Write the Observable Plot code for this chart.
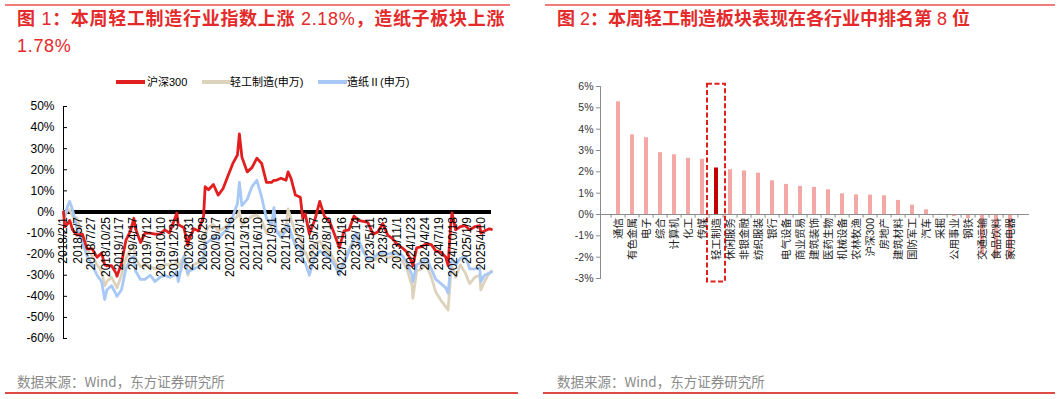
<!DOCTYPE html>
<html><head><meta charset="utf-8">
<script src="https://cdn.jsdelivr.net/npm/d3@7"></script>
<script src="https://cdn.jsdelivr.net/npm/@observablehq/plot@0.6"></script>
<style>
body{margin:0;background:#fff;}
#root{position:relative;width:1061px;height:399px;overflow:hidden;font-family:"Liberation Sans","Noto Sans CJK SC",sans-serif;}
.abs{position:absolute;}
.title{color:#E42A2A;font-weight:bold;font-size:18px;white-space:nowrap;line-height:27px;font-family:"Liberation Sans","Noto Sans CJK SC",sans-serif;}
.title .n{font-weight:normal;}
.src{color:#8a8a8a;font-size:13.5px;white-space:nowrap;line-height:18px;font-family:"Noto Sans CJK SC",sans-serif;}
.topline{height:2px;background:#F07C7C;}
.botline{height:2px;background:#E04A45;}
.leg{font-size:11px;line-height:14px;color:#000;white-space:nowrap;}
.sw{height:3.5px;width:29px;}
</style></head><body><div id="root"></div>
<script>
// ---------- Figure 1 data (cumulative change since 2018/2/1, %) ----------
const dates = ["2018-02-01","2018-02-09","2018-02-28","2018-03-12","2018-03-30","2018-04-27","2018-05-31","2018-06-29","2018-07-31","2018-08-31","2018-09-28","2018-10-18","2018-10-31","2018-11-30","2018-12-28",
"2019-01-03","2019-01-31","2019-02-28","2019-03-29","2019-04-19","2019-04-30","2019-05-31","2019-06-28","2019-07-31","2019-08-30","2019-09-30","2019-10-31","2019-11-29","2019-12-31",
"2020-01-14","2020-01-23","2020-02-28","2020-03-23","2020-03-31","2020-04-30","2020-05-29","2020-06-30","2020-07-10","2020-07-31","2020-08-31","2020-09-30","2020-10-30","2020-11-30","2020-12-31",
"2021-01-29","2021-02-10","2021-02-26","2021-03-31","2021-04-30","2021-05-31","2021-06-30","2021-07-30","2021-08-31","2021-09-15","2021-09-30","2021-10-29","2021-11-30","2021-12-13","2021-12-31",
"2022-01-28","2022-02-28","2022-03-15","2022-03-31","2022-04-26","2022-05-31","2022-06-30","2022-07-29","2022-08-31","2022-09-30","2022-10-31","2022-11-30","2022-12-30",
"2023-01-31","2023-02-15","2023-02-28","2023-03-31","2023-04-28","2023-05-31","2023-06-30","2023-07-31","2023-08-31","2023-09-28","2023-10-31","2023-11-30","2023-12-29",
"2024-01-31","2024-02-05","2024-02-29","2024-03-29","2024-04-30","2024-05-31","2024-06-28","2024-07-31","2024-08-30","2024-09-13","2024-09-30","2024-10-08","2024-10-31","2024-11-29","2024-12-31",
"2025-01-27","2025-02-28","2025-03-31","2025-04-07","2025-04-30","2025-05-30","2025-06-13"];
const hs300 = [0,-7,-5.5,-4,-8.5,-11,-10.5,-17.5,-17.5,-21.5,-19.5,-25,-25.5,-25.5,-29,
-30.5,-24.5,-13.5,-9,-3,-8,-14.5,-10,-10,-10.5,-10.5,-8.5,-10,-3.5,
-0.5,-6,-7.5,-16,-13,-8,-9,-2,12,10.5,13,8,11,17,23,
27,37,26,19,21,25.5,23,14,14,15,15,16,15,19,16,
8,7,-3,-1,-10.5,-3.5,5,-2,-4.5,-10.5,-17,-9,-8.5,
-2,-3,-4,-4.5,-5,-10.5,-9.5,-5.5,-11,-12.5,-15.5,-17,-19,
-24,-25.5,-17,-16.5,-15,-15.5,-18.5,-19,-21.5,-25.5,-6,-0.5,-8.5,-7,-6.5,
-8.5,-7,-6.5,-10,-9,-8,-8.3];
const qinggong = [0,-2,1,1,-2,-3,-12,-18,-21,-25,-28,-35,-33,-31,-35,
-36,-30,-22,-18,-17,-22,-26,-25,-26,-27,-26,-25,-25,-25,
-23,-26,-21,-30,-28,-25,-24,-22,-10,-7,-6,-9,-8,-6,-4,
-2,0.5,-6,-4,-2,-1.5,-4,-10,-6,-5,-9,-10,-7,1.5,-3,
-10,-12,-18,-19,-24,-15,-14,-17,-19,-23,-28,-23,-18,
-13,-12,-14,-18,-22,-23,-22,-20,-22,-21,-22,-23,-27,
-35,-41,-28,-27,-25,-31,-38,-42,-45,-46.5,-30,-26,-31,-25,-29,
-34,-31,-30,-37,-33,-29,-28];
const zaozhi = [0,-2,3,5,1,-8,-14,-21,-25,-30,-33,-41.5,-37,-35,-39,
-40,-37,-27,-22,-21,-28,-32,-32,-30,-33,-31,-30,-31,-30,
-28,-33,-21,-29,-28,-27,-26,-24,-15,-14,-12,-13,-10,-8,-2,
4,14,3,6,12,15,7,-3,-6,2,-9,-12,-9,-6,-10,
-16,-17,-23,-24,-30,-21,-18.5,-20,-22,-25,-30,-24,-19,
-13,-10,-13,-19,-22,-22,-20,-19,-20,-19.5,-20,-20.5,-24,
-30,-33,-25,-24,-22,-27,-32,-34,-36,-38.5,-26,-22,-25,-22,-21,
-27,-27,-26.5,-33,-30,-29,-28.5];
const xTickLabels = ["2018/2/1","2018/5/7","2018/7/27","2018/10/25","2019/1/17","2019/4/17","2019/7/12","2019/10/10","2019/12/31","2020/3/31","2020/6/29","2020/9/17","2020/12/16","2021/3/16","2021/6/10","2021/9/1","2021/12/1","2022/3/1","2022/5/27","2022/8/18","2022/11/16","2023/2/14","2023/5/11","2023/8/3","2023/11/1","2024/1/23","2024/4/24","2024/7/19","2024/10/18","2025/1/9","2025/4/10"];
const yTicksLeft = [-60,-50,-40,-30,-20,-10,0,10,20,30,40,50];
const seriesNames = ["沪深300","轻工制造(申万)","造纸Ⅱ(申万)"];
const seriesColors = ["#E21F1F","#DDD3BD","#A8C8F6"];

// ---------- Figure 2 data (weekly change, %) ----------
const industries = ["通信","有色金属","电子","综合","计算机","化工","传媒","轻工制造","休闲服务","非银金融","纺织服装","银行","电气设备","商业贸易","建筑装饰","医药生物","机械设备","农林牧渔","沪深300","房地产","建筑材料","国防军工","汽车","采掘","公用事业","钢铁","交通运输","食品饮料","家用电器"];
const weeklyChange = [5.28,3.73,3.6,2.9,2.8,2.63,2.59,2.18,2.1,2.04,1.94,1.58,1.41,1.32,1.27,1.16,0.97,0.92,0.91,0.88,0.66,0.44,0.22,0.01,-0.1,-0.19,-1.9,-2.0,-2.1];
const highlight = "轻工制造";
const yTicksRight = [-3,-2,-1,0,1,2,3,4,5,6];

const root = document.getElementById("root");
function el(cls, css, html){const d=document.createElement("div");d.className="abs "+cls;Object.assign(d.style,css);if(html!=null)d.innerHTML=html;root.appendChild(d);return d;}

// header / footer decorations
el("topline",{left:"5px",top:"4px",width:"505px"});
el("topline",{left:"545px",top:"4px",width:"510px"});
el("title",{left:"17px",top:"6px",letterSpacing:"0.7px"},"图 <span class='n'>1</span>：本周轻工制造行业指数上涨 <span class='n'>2.18%</span>，造纸子板块上涨<br><span class='n'>1.78%</span>");
el("title",{left:"557px",top:"6px"},"图 <span class='n'>2</span>：本周轻工制造板块表现在各行业中排名第 <span class='n'>8</span> 位");
el("src",{left:"17px",top:"372px"},"数据来源：Wind，东方证券研究所");
el("src",{left:"557px",top:"372px"},"数据来源：Wind，东方证券研究所");
el("botline",{left:"5px",top:"392px",width:"513px"});
el("botline",{left:"543px",top:"392px",width:"512px"});

// legend (figure 1)
const swX=[116,202,318], txX=[147,230,347];
seriesNames.forEach((n,i)=>{
  el("sw",{left:swX[i]+"px",top:"80px",background:seriesColors[i]});
  el("leg",{left:txX[i]+"px",top:"74.5px"},n);
});

// ---------- Figure 1 plot ----------
const parse = d3.utcParse("%Y-%m-%d");
const parseTick = d3.utcParse("%Y/%m/%d");
const rows = dates.map((d,i)=>({date:parse(d), hs300:hs300[i], qg:qinggong[i], zz:zaozhi[i]}));
const tickRows = xTickLabels.map(s=>({label:s, date:parseTick(s)}));
const x0 = rows[0].date, x1 = rows[rows.length-1].date;
const W1=530, ML1=63, MR1=39;
const left = Plot.plot({
  width:W1, height:255, marginLeft:ML1, marginRight:MR1, marginTop:11, marginBottom:12,
  style:{fontFamily:'"Liberation Sans","Noto Sans CJK SC",sans-serif', fontSize:"12px", color:"#000", background:"transparent", overflow:"visible"},
  x:{type:"utc", domain:[x0,x1], axis:null},
  y:{domain:[-60,50], axis:null},
  marks:[
    Plot.frame({anchor:"left", stroke:"#000", strokeWidth:1}),
    Plot.tickY(yTicksLeft,{y:d=>d, stroke:"#000", insetRight:W1-ML1-MR1-4}),
    Plot.axisY(yTicksLeft,{tickSize:0, tickPadding:9, tickFormat:d=>d+"%", fontSize:12, fill:"#000", label:null}),
    Plot.ruleY([0],{x1:x0, x2:x1, stroke:"#000", strokeWidth:4}),
    Plot.line(rows,{x:"date", y:"qg", stroke:seriesColors[1], strokeWidth:2.8}),
    Plot.line(rows,{x:"date", y:"zz", stroke:seriesColors[2], strokeWidth:2.8}),
    Plot.line(rows,{x:"date", y:"hs300", stroke:seriesColors[0], strokeWidth:2.8}),
    Plot.text(tickRows,{x:"date", y:()=>0, text:"label", rotate:-90, textAnchor:"end", dy:5, fontSize:12, fill:"#000"})
  ]
});
left.style.position="absolute"; left.style.left="0px"; left.style.top="95px";
root.appendChild(left);

// ---------- Figure 2 plot ----------
const bars = industries.map((n,i)=>({name:n, value:weeklyChange[i]}));
const W2=531, ML2=70, MR2=32;
const step = (W2-ML2-MR2)/industries.length;
const right = Plot.plot({
  width:W2, height:230, marginLeft:ML2, marginRight:MR2, marginTop:16, marginBottom:22,
  style:{fontFamily:'"Liberation Sans","Noto Sans CJK SC",sans-serif', fontSize:"10px", color:"#333", background:"transparent", overflow:"visible"},
  x:{domain:industries, paddingInner:0.68, paddingOuter:0.34, axis:null},
  y:{domain:[-3,6], axis:null},
  marks:[
    Plot.frame({anchor:"left", stroke:"#8c8c8c"}),
    Plot.axisY(yTicksRight,{tickSize:4, tickPadding:3, stroke:"#8c8c8c", fill:"#333", tickFormat:d=>d+"%", fontSize:10.5, label:null}),
    Plot.barY(bars.filter(d=>d.name!==highlight),{x:"name", y:"value", fill:"#F4A8A6"}),
    Plot.barY(bars.filter(d=>d.name===highlight),{x:"name", y:"value", fill:"#C00000"}),
    Plot.ruleY([0],{stroke:"#8c8c8c"}),
    Plot.ruleX(industries,{x:d=>d, y1:0, y2:-0.17, dx:-step/2, stroke:"#8c8c8c"}),
    Plot.ruleX(industries.slice(-1),{x:d=>d, y1:0, y2:-0.17, dx:step/2, stroke:"#8c8c8c"}),
    Plot.barY([highlight],{x:d=>d, y1:-3.16, y2:6.1, fill:"none", stroke:"#E0201B", strokeWidth:2, strokeDasharray:"5,2.5", insetLeft:-7, insetRight:-7}),
    Plot.text(bars,{x:"name", y:()=>0, text:"name", rotate:-90, textAnchor:"end", dy:3.5, fontSize:10.5, fill:"#222"})
  ]
});
right.style.position="absolute"; right.style.left="530px"; right.style.top="70px";
root.appendChild(right);
</script></body></html>
